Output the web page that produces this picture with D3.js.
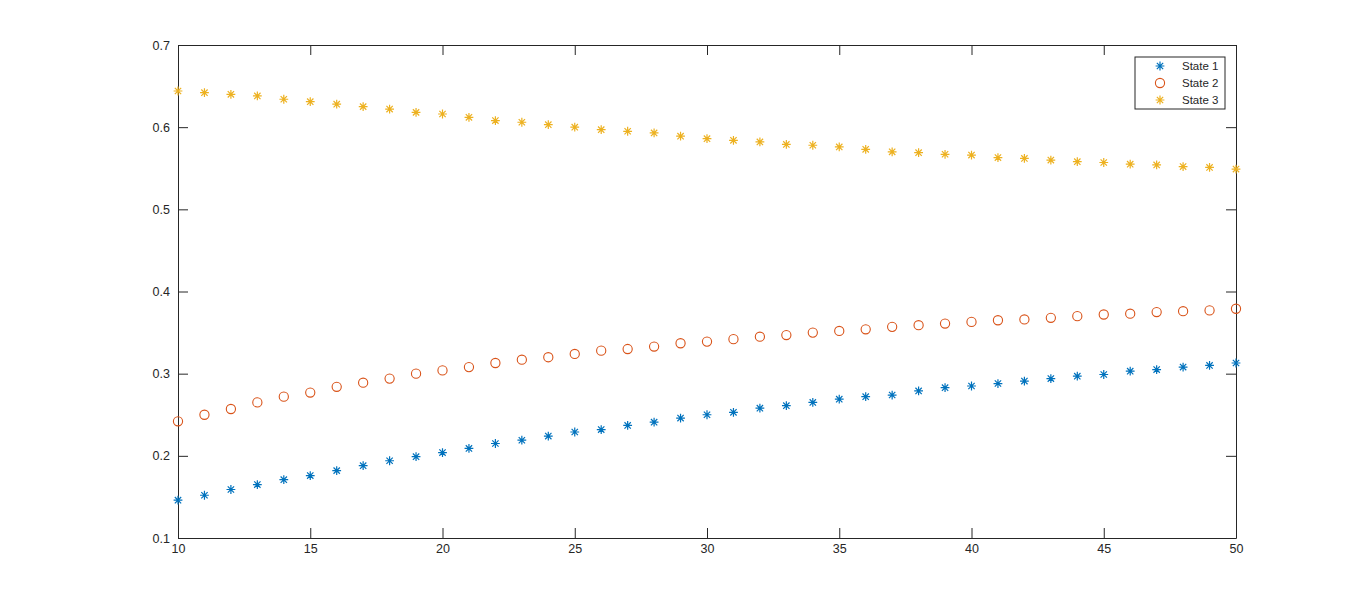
<!DOCTYPE html>
<html>
<head>
<meta charset="utf-8">
<script src="https://cdn.jsdelivr.net/npm/d3@7"></script>
<style>
  body { margin: 0; background: #fff; }
  text { font-family: "Liberation Sans", Arial, sans-serif; fill: #262626; }
</style>
</head>
<body>
<svg id="chart" width="1366" height="604"></svg>
<script>
// steps on the x axis
const steps = d3.range(10, 51);

const state1 = [0.146, 0.152, 0.159, 0.165, 0.171, 0.176, 0.182, 0.188, 0.194, 0.199,
  0.204, 0.209, 0.215, 0.219, 0.224, 0.229, 0.232, 0.237, 0.241, 0.246,
  0.250, 0.253, 0.258, 0.261, 0.265, 0.269, 0.272, 0.274, 0.279, 0.283,
  0.285, 0.288, 0.291, 0.294, 0.297, 0.299, 0.303, 0.305, 0.308, 0.310, 0.313];

const state2 = [0.242, 0.250, 0.257, 0.265, 0.272, 0.277, 0.284, 0.289, 0.294, 0.300,
  0.304, 0.308, 0.313, 0.317, 0.320, 0.324, 0.328, 0.330, 0.333, 0.337,
  0.339, 0.342, 0.345, 0.347, 0.350, 0.352, 0.354, 0.357, 0.359, 0.361,
  0.363, 0.365, 0.366, 0.368, 0.370, 0.372, 0.373, 0.375, 0.376, 0.377, 0.379];

const state3 = [0.644, 0.642, 0.640, 0.638, 0.634, 0.631, 0.628, 0.625, 0.622, 0.618,
  0.616, 0.612, 0.608, 0.606, 0.603, 0.600, 0.597, 0.595, 0.593, 0.589,
  0.586, 0.584, 0.582, 0.579, 0.578, 0.576, 0.573, 0.570, 0.569, 0.567,
  0.566, 0.563, 0.562, 0.560, 0.558, 0.557, 0.555, 0.554, 0.552, 0.551, 0.549];

const seriesNames = ["State 1", "State 2", "State 3"];
const seriesColors = ["#0072BD", "#D95319", "#EDB120"];
const seriesMarkers = ["star", "circle", "star"];
const xTicks = [10, 15, 20, 25, 30, 35, 40, 45, 50];
const yTicks = [0.1, 0.2, 0.3, 0.4, 0.5, 0.6, 0.7];

const margin = {left: 178, top: 45, right: 130, bottom: 66};
const width = 1366 - margin.left - margin.right;
const height = 604 - margin.top - margin.bottom;

const svg = d3.select("#chart");
const g = svg.append("g").attr("transform", `translate(${margin.left},${margin.top})`);

const x = d3.scaleLinear().domain([10, 50]).range([0, width]);
const y = d3.scaleLinear().domain([0.1, 0.7]).range([height, 0]);

// star marker like matlab '*'
function starPath(s) {
  const d = s * 0.72;
  return `M0,${-s}V${s}M${-s},0H${s}M${-d},${-d}L${d},${d}M${-d},${d}L${d},${-d}`;
}

function drawMarker(sel, kind, color) {
  if (kind === "circle") {
    sel.append("circle").attr("r", 4.6)
      .attr("fill", "none").attr("stroke", color).attr("stroke-width", 1.1);
  } else {
    sel.append("path").attr("d", starPath(4.4))
      .attr("fill", "none").attr("stroke", color).attr("stroke-width", 1.2);
  }
}

// axes with inward ticks on all four sides
const tickLen = 10;
g.append("g").attr("transform", `translate(0,${height})`)
  .call(d3.axisBottom(x).tickValues(xTicks).tickSizeInner(-tickLen).tickSizeOuter(0).tickPadding(6))
  .call(a => a.selectAll("text").attr("font-size", 12.5));
g.append("g")
  .call(d3.axisTop(x).tickValues(xTicks).tickSizeInner(-tickLen).tickSizeOuter(0).tickFormat(""));
g.append("g")
  .call(d3.axisLeft(y).tickValues(yTicks).tickSizeInner(-tickLen).tickSizeOuter(0).tickPadding(8).tickFormat(d3.format(".1f")))
  .call(a => a.selectAll("text").attr("font-size", 12.5));
g.append("g").attr("transform", `translate(${width},0)`)
  .call(d3.axisRight(y).tickValues(yTicks).tickSizeInner(-tickLen).tickSizeOuter(0).tickFormat(""));

g.selectAll(".domain").attr("stroke", "#262626");
g.selectAll(".tick line").attr("stroke", "#262626");

const allSeries = [state1, state2, state3];
allSeries.forEach((vals, i) => {
  g.append("g").selectAll("g")
    .data(vals)
    .join("g")
    .attr("transform", (d, j) => `translate(${x(steps[j])},${y(d)})`)
    .each(function() { drawMarker(d3.select(this), seriesMarkers[i], seriesColors[i]); });
});

// legend
const legend = svg.append("g").attr("transform", "translate(1135,57)");
legend.append("rect").attr("width", 90).attr("height", 52)
  .attr("fill", "#fff").attr("stroke", "#262626").attr("stroke-width", 1);
seriesNames.forEach((name, i) => {
  const row = legend.append("g").attr("transform", `translate(0,${9 + i * 17})`);
  const m = row.append("g").attr("transform", "translate(25,0)");
  drawMarker(m, seriesMarkers[i], seriesColors[i]);
  row.append("text").attr("x", 47).attr("y", 4).attr("font-size", 11.5).text(name);
});
</script>
</body>
</html>
